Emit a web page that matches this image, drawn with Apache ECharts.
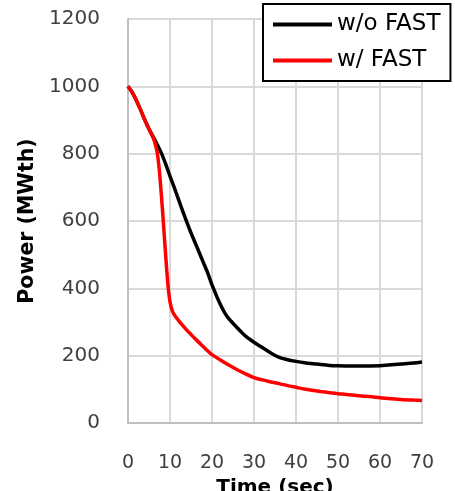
<!DOCTYPE html>
<html>
<head>
<meta charset="utf-8">
<script src="https://cdn.jsdelivr.net/npm/echarts@6/dist/echarts.min.js"></script>
<style>
  html, body { margin: 0; padding: 0; background: #ffffff; }
  #chart { width: 455px; height: 491px; }
</style>
</head>
<body>
<div id="chart"></div>
<script>
// Reactor power transient, with and without FAST
const seriesNames = ['w/o FAST', 'w/ FAST'];

const timeNoFast = [0, 1, 2, 3, 4, 5, 6, 7, 8, 9, 10, 11, 12, 13, 14, 15, 16, 17, 18, 19, 20,
  21, 22, 23, 24, 26, 28, 30, 32, 34, 36, 38, 40, 42, 45, 48, 50, 55, 60, 62, 65, 68, 70];
const powerNoFast = [1000, 982, 958, 930, 900, 873, 850, 826, 800, 768, 733, 700, 665, 630, 597, 565, 535, 505, 475, 445, 410,
  380, 352, 328, 310, 283, 258, 240, 224, 208, 195, 188, 183, 179, 175, 171, 170, 169, 170, 172, 175, 178, 181];

const timeFast = [0, 1, 2, 3, 4, 5, 6, 6.5, 7, 7.5, 8, 8.5, 9, 9.5, 10, 10.5, 11, 12, 13, 14, 15, 16, 17, 18, 19, 20,
  22, 24, 26, 28, 30, 32, 34, 36, 38, 40, 42, 45, 48, 50, 52, 55, 58, 60, 62, 65, 68, 70];
const powerFast = [1000, 982, 958, 930, 900, 873, 847, 828, 800, 745, 668, 582, 492, 412, 360, 335, 322, 305, 290, 276, 263, 250, 238, 226, 214, 203,
  187, 172, 158, 146, 135, 128, 122, 117, 111, 106, 101, 95, 90, 87, 85, 81, 78, 75, 73, 70, 68, 67];

const xTicks = { min: 0, max: 70, step: 10 };
const yTicks = { min: 0, max: 1200, step: 200 };

const pairs = (xs, ys) => xs.map((x, i) => [x, ys[i]]);

const font = 'DejaVu Sans';
const gridLine = { show: true, interval: 0, lineStyle: { type: 'solid', color: '#d9d9d9', width: 2, opacity: 1 } };
const chart = echarts.init(document.getElementById('chart'), null, { renderer: 'canvas' });

chart.setOption({
  animation: false,
  backgroundColor: '#ffffff',
  grid: { left: 128, right: 33, top: 19, bottom: 68, containLabel: false, outerBoundsMode: 'none', show: false },
  legend: {
    orient: 'vertical',
    left: 263,
    top: 4,
    padding: [9, 10, 9, 10],
    itemGap: 13,
    itemWidth: 59,
    itemHeight: 20,
    backgroundColor: '#ffffff',
    borderColor: '#000000',
    borderWidth: 2,
    borderRadius: 0,
    textStyle: { fontFamily: font, fontSize: 23, color: '#000000' },
    data: seriesNames.map(n => ({ name: n, icon: 'path://M0,0 L59,0 L59,4 L0,4 Z' }))
  },
  xAxis: {
    type: 'value',
    min: xTicks.min,
    max: xTicks.max,
    interval: xTicks.step,
    name: 'Time (sec)',
    nameLocation: 'middle',
    nameGap: 49,
    nameTextStyle: { fontFamily: font, fontSize: 20, fontWeight: 'bold', color: '#000000' },
    axisLine: { show: true, onZero: false, lineStyle: { color: '#bfbfbf', width: 2 } },
    axisTick: { show: false },
    axisLabel: { margin: 31, fontFamily: font, fontSize: 19, color: '#404040', formatter: v => String(v) },
    splitLine: gridLine
  },
  yAxis: {
    type: 'value',
    min: yTicks.min,
    max: yTicks.max,
    interval: yTicks.step,
    name: 'Power (MWth)',
    nameLocation: 'middle',
    nameGap: 58,
    nameTextStyle: { fontFamily: font, fontSize: 20.5, fontWeight: 'bold', color: '#000000' },
    axisLine: { show: true, onZero: false, lineStyle: { color: '#bfbfbf', width: 2 } },
    axisTick: { show: false },
    axisLabel: { margin: 28, fontFamily: font, fontSize: 20, color: '#404040', formatter: v => String(v) },
    splitLine: gridLine
  },
  series: [
    {
      name: seriesNames[0],
      type: 'line',
      data: pairs(timeNoFast, powerNoFast),
      showSymbol: false,
      symbol: 'none',
      smooth: 0.3,
      z: 3,
      itemStyle: { color: '#000000' },
      lineStyle: { color: '#000000', width: 3.5 }
    },
    {
      name: seriesNames[1],
      type: 'line',
      data: pairs(timeFast, powerFast),
      showSymbol: false,
      symbol: 'none',
      smooth: 0.3,
      z: 4,
      itemStyle: { color: '#ff0000' },
      lineStyle: { color: '#ff0000', width: 3.5 }
    }
  ]
});
</script>
</body>
</html>
